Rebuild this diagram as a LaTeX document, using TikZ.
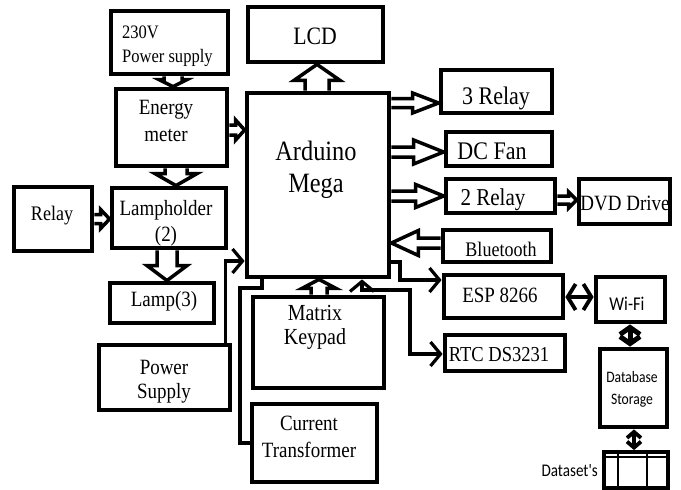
\documentclass[tikz,border=0pt]{standalone}
\usepackage{fontspec}
\setmainfont{Liberation Serif}[FakeStretch=0.87]
\newfontfamily\sansfnt{Carlito}[FakeStretch=0.85]
\usetikzlibrary{arrows.meta,calc}

\newcommand\hblk[5]{\draw[blk] let \p1=#1, \p2=#2, \n1={sign(\x2-\x1)} in
 (\x1,{\y1+#3}) -- ({\x2-\n1*#5},{\y1+#3}) -- ({\x2-\n1*#5},{\y1+#4}) -- (\x2,\y1) -- ({\x2-\n1*#5},{\y1-#4}) -- ({\x2-\n1*#5},{\y1-#3}) -- (\x1,{\y1-#3});}
\newcommand\vblk[5]{\draw[blk] let \p1=#1, \p2=#2, \n1={sign(\y2-\y1)} in
 ({\x1+#3},\y1) -- ({\x1+#3},{\y2-\n1*#5}) -- ({\x1+#4},{\y2-\n1*#5}) -- (\x1,\y2) -- ({\x1-#4},{\y2-\n1*#5}) -- ({\x1-#3},{\y2-\n1*#5}) -- ({\x1-#3},\y1);}
\newcommand\bx[5]{\node[box, minimum width={(#4-#2)*1pt}, minimum height={(#5-#3)*1pt}] (#1) at ({(#2+#4)/2},{(#3+#5)/2}) {};}
\newcommand\fsz[2]{\fontsize{#1}{#2}\selectfont}

\begin{document}
\begin{tikzpicture}[x=1pt,y=-1pt,
 box/.style={draw, line width=4.8pt, inner sep=0pt},
 blk/.style={line width=3.5pt, line join=miter, miter limit=20},
 ln/.style={line width=3.2pt},
 txt/.style={inner sep=0pt, align=center},
 >={Straight Barb[length=10pt,width=24pt]}]
\useasboundingbox (0,0) rectangle (681,490);

% boxes
\bx{pw}{111}{11}{228}{74}
\bx{lcd}{248}{7}{383}{62}
\bx{em}{116}{89}{227}{166}
\bx{ard}{247}{93}{389}{277}
\bx{rthree}{441}{70}{552}{113}
\bx{fan}{446}{132}{552}{166}
\bx{rtwo}{446}{179}{555}{213}
\bx{dvd}{579}{179}{670}{224}
\bx{bt}{443}{230}{551}{262}
\bx{esp}{444}{275}{563}{318}
\bx{wifi}{596}{277}{665}{322}
\bx{db}{600}{349}{667}{427}
\bx{rtc}{445}{335}{565}{371}
\bx{rel}{14}{187}{92}{251}
\bx{lh}{112}{188}{226}{248}
\bx{lamp}{110}{283}{214}{323}
\bx{ps}{99}{345}{230}{410}
\bx{kp}{253}{297}{384}{388}
\bx{ct}{252}{404}{377}{482}
\node[draw, line width=3.8pt, inner sep=0pt, minimum width=64pt, minimum height=36pt] (tbl) at (636,470) {};
\draw[line width=2.5pt] (tbl.north west |- 0,457) -- (tbl.north east |- 0,457);
\draw[line width=2.8pt] (618,0 |- tbl.north) -- (618,0 |- tbl.south);
\draw[line width=2.8pt] (647,0 |- tbl.north) -- (647,0 |- tbl.south);

% block arrows
\vblk{(pw.south -| 173,0)}{(em.north)}{9pt}{14pt}{7pt}
\hblk{(em.east |- 0,130)}{(ard.west)}{5pt}{10pt}{9pt}
\vblk{(em.south -| 176,0)}{(lh.north)}{11pt}{21pt}{12pt}
\hblk{(rel.east |- 0,219)}{(lh.west)}{4.5pt}{9.5pt}{9pt}
\vblk{(lh.south -| 167,0)}{(lamp.north)}{10pt}{20pt}{15pt}
\vblk{(ard.north -| 317,0)}{(lcd.south)}{12pt}{23pt}{16pt}
\hblk{(ard.east |- 0,103)}{(rthree.west)}{4.5pt}{10pt}{26pt}
\hblk{(ard.east |- 0,152)}{(fan.west)}{5pt}{12pt}{30pt}
\hblk{(ard.east |- 0,196)}{(rtwo.west)}{5pt}{11.5pt}{28pt}
\hblk{(bt.west |- 0,243)}{(ard.east)}{5pt}{12.5pt}{27pt}
\hblk{(rtwo.east |- 0,200)}{(dvd.west)}{4pt}{8pt}{8pt}
\vblk{(kp.north -| 319,0)}{(ard.south)}{8pt}{17pt}{9pt}

% thin connectors
\draw[ln,->] ([xshift=-7pt]ps.north east) |- (ard.west |- 0,261);
\draw[ln] (ct.west) -| (240,288) -| (ard.south -| 262,0);
\draw[ln,->] (ard.east |- 0,262) -| (400,280) -- (esp.west |- 0,280);
\draw[ln,<->] (ard.south -| 362,0) |- (410,290) |- (rtc.west |- 0,354);
\draw[line width=3.8pt,<->,>={Straight Barb[length=8pt,width=26pt]}] (esp.east |- 0,297) -- (wifi.west |- 0,297);
\draw[line width=5pt,<->,>={Straight Barb[length=7pt,width=20pt]}] (wifi.south -| 630,0) -- (db.north -| 630,0);
\draw[line width=3.8pt,<->,>={Straight Barb[length=6pt,width=14pt]}] (db.south -| 634,0) -- (tbl.north -| 634,0);

% texts
\node[txt, anchor=west, align=left, font=\fsz{19}{24}] (tpw) at (122,46.5) {230V\\Power supply};
\node[txt, font=\fsz{25}{26}] (tlcd) at (315,36) {LCD};
\node[txt, font=\fsz{21.8}{27}] (tem) at (166,121) {Energy\\meter};
\node[txt, font=\fsz{28}{32}] (tard) at (316,170) {Arduino\\Mega};
\node[txt, font=\fsz{25.3}{26}] (tr3) at (496,98) {3 Relay};
\node[txt, font=\fsz{25.3}{26}] (tfan) at (492,151) {DC Fan};
\node[txt, font=\fsz{24.2}{26}] (tr2) at (493,200) {2 Relay};
\node[txt, font=\fsz{21.8}{24}] (tdvd) at (625,203) {DVD Drive};
\node[txt, font=\fsz{20.7}{24}] (tbt) at (501,249) {Bluetooth};
\node[txt, font=\fsz{21.8}{24}] (tesp) at (500,295) {ESP 8266};
\node[txt, font=\fsz{21.3}{24}] (trtc) at (499,355) {RTC DS3231};
\node[txt, font=\sansfnt\fsz{19.5}{22}] (twifi) at (627,304) {Wi-Fi};
\node[txt, font=\sansfnt\fsz{16}{22}] (tdb) at (632,389) {Database\\Storage};
\node[txt, anchor=east, font=\sansfnt\fsz{17.8}{20}] (tds) at (598,471) {Dataset's};
\node[txt, font=\fsz{20.7}{24}] (trel) at (52,216) {Relay};
\node[txt, font=\fsz{21.8}{26}] (tlh) at (166,223) {Lampholder\\(2)};
\node[txt, font=\fsz{21.8}{24}] (tlamp) at (164,301) {Lamp(3)};
\node[txt, font=\fsz{21.8}{24}] (tps) at (164,382) {Power\\Supply};
\node[txt, font=\fsz{23}{24}] (tkp) at (315,327) {Matrix\\Keypad};
\node[txt, font=\fsz{21.8}{27}] (tct) at (309,437) {Current\\Transformer};
\end{tikzpicture}
\end{document}
